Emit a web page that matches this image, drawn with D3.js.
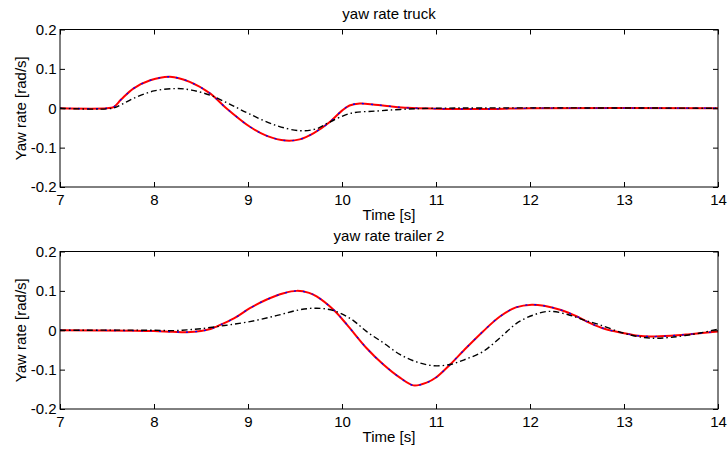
<!DOCTYPE html>
<html>
<head>
<meta charset="utf-8">
<script src="https://cdn.jsdelivr.net/npm/d3@7"></script>
<style>
body { margin: 0; background: #fff; }
svg text { font-family: "Liberation Sans", Arial, sans-serif; font-size: 15px; fill: #000; }
</style>
</head>
<body>
<div id="chart"></div>
<script>
// tick values and labels
var xTicks = [7, 8, 9, 10, 11, 12, 13, 14];
var yTicks = [-0.2, -0.1, 0, 0.1, 0.2];
var yTickLabels = ["-0.2", "-0.1", "0", "0.1", "0.2"];

// yaw rate truck, [time, rad/s]
var truckRed = [[7,0],[7.5,0],[7.57,0.003],[7.65,0.022],[7.78,0.050],[7.96,0.071],[8.17,0.080],[8.38,0.067],
    [8.6,0.037],[8.76,0.002],[9.02,-0.047],[9.2,-0.07],[9.4,-0.082],[9.55,-0.079],[9.7,-0.063],[9.87,-0.035],
    [10.0,-0.006],[10.08,0.007],[10.19,0.012],[10.35,0.009],[10.51,0.005],[10.7,0.001],[11,-0.001],
    [11.5,-0.002],[12,0],[14,0]];
var truckBlack = [[7,0],[7.56,0],[7.65,0.009],[7.78,0.025],[8.0,0.044],[8.24,0.050],[8.4,0.046],[8.6,0.033],
    [8.8,0.011],[9.02,-0.015],[9.29,-0.043],[9.55,-0.057],[9.73,-0.052],[9.87,-0.035],[10.09,-0.013],
    [10.37,-0.007],[10.62,-0.003],[11,0],[14,0]];

// yaw rate trailer 2
var trailerRed = [[7,0],[7.8,-0.001],[8.0,-0.002],[8.2,-0.004],[8.35,-0.005],[8.5,-0.002],[8.6,0.003],
    [8.67,0.010],[8.85,0.03],[9.02,0.056],[9.2,0.078],[9.38,0.094],[9.52,0.100],[9.65,0.095],[9.73,0.086],
    [9.91,0.052],[10.05,0.015],[10.26,-0.045],[10.44,-0.087],[10.62,-0.121],[10.76,-0.140],[10.9,-0.133],
    [11.0,-0.12],[11.15,-0.087],[11.3,-0.050],[11.5,-0.003],[11.68,0.035],[11.85,0.058],[12.02,0.065],
    [12.15,0.062],[12.32,0.052],[12.5,0.035],[12.64,0.018],[12.8,0.003],[12.99,-0.007],[13.15,-0.014],
    [13.28,-0.016],[13.5,-0.014],[13.7,-0.010],[14,-0.003]];
var trailerBlack = [[7,0],[8.0,0],[8.2,-0.001],[8.35,0.001],[8.5,0.004],[8.75,0.012],[9.02,0.022],[9.3,0.037],
    [9.55,0.052],[9.73,0.056],[9.91,0.050],[10.1,0.028],[10.26,-0.003],[10.44,-0.032],[10.62,-0.062],
    [10.8,-0.081],[10.97,-0.090],[11.15,-0.087],[11.3,-0.075],[11.5,-0.054],[11.7,-0.015],[11.86,0.018],
    [12.04,0.039],[12.21,0.048],[12.4,0.040],[12.56,0.027],[12.74,0.014],[12.99,-0.007],[13.15,-0.016],
    [13.28,-0.020],[13.5,-0.018],[13.81,-0.007],[14,0.003]];

var W = 728, H = 449;
var svg = d3.select("#chart").append("svg").attr("width", W).attr("height", H);

// one subplot, box with ticks inside on all four sides (matlab style)
function subplot(top, title, red, black) {
    var dim = {l: 60, r: 718, t: top, b: top + 157.5};
    var x = d3.scaleLinear().domain([7, 14]).range([dim.l, dim.r]);
    var y = d3.scaleLinear().domain([-0.2, 0.2]).range([dim.b, dim.t]);

    var g = svg.append("g");

    // clip so lines stay in the box
    var cid = "clip" + Math.round(top);
    g.append("clipPath").attr("id", cid).append("rect")
        .attr("x", dim.l).attr("y", dim.t).attr("width", dim.r - dim.l).attr("height", dim.b - dim.t);

    var line = d3.line().x(function(d) { return x(d[0]); }).y(function(d) { return y(d[1]); })
        .curve(d3.curveCatmullRom.alpha(0.5));

    var lines = g.append("g").attr("clip-path", "url(#" + cid + ")");
    lines.append("path").attr("d", line(red)).attr("fill", "none")
        .attr("stroke", "#ff0000").attr("stroke-width", 2);
    // blue trace lies right on top of the red one
    lines.append("path").attr("d", line(red)).attr("fill", "none")
        .attr("stroke", "#0000ff").attr("stroke-width", 1.3).attr("stroke-dasharray", "2,7");
    lines.append("path").attr("d", line(black)).attr("fill", "none")
        .attr("stroke", "#000").attr("stroke-width", 1.4).attr("stroke-dasharray", "6,3,1.5,3");

    // axes
    var fmtY = function(d) { return yTickLabels[yTicks.indexOf(d)]; };
    g.append("g").attr("transform", "translate(0," + dim.b + ")")
        .call(d3.axisBottom(x).tickValues(xTicks).tickSize(-5).tickPadding(7.5).tickFormat(d3.format("d")));
    g.append("g").attr("transform", "translate(0," + dim.t + ")")
        .call(d3.axisTop(x).tickValues(xTicks).tickSize(-5).tickFormat(""));
    g.append("g").attr("transform", "translate(" + dim.l + ",0)")
        .call(d3.axisLeft(y).tickValues(yTicks).tickSize(-5).tickPadding(3.5).tickFormat(fmtY));
    g.append("g").attr("transform", "translate(" + dim.r + ",0)")
        .call(d3.axisRight(y).tickValues(yTicks).tickSize(-5).tickFormat(""));

    g.selectAll(".domain").remove();
    g.selectAll(".tick line").attr("stroke", "#000").attr("stroke-width", 1);
    g.selectAll(".tick text").attr("font-family", null).attr("font-size", null).attr("fill", "#000");

    g.append("rect").attr("x", dim.l).attr("y", dim.t)
        .attr("width", dim.r - dim.l).attr("height", dim.b - dim.t)
        .attr("fill", "none").attr("stroke", "#000").attr("stroke-width", 1);

    // titles and labels
    var cx = (dim.l + dim.r) / 2;
    g.append("text").attr("x", cx).attr("y", dim.t - 11).attr("text-anchor", "middle").text(title);
    g.append("text").attr("x", cx).attr("y", dim.b + 33).attr("text-anchor", "middle").text("Time [s]");
    g.append("text").attr("text-anchor", "middle")
        .attr("transform", "translate(26," + (dim.t + dim.b) / 2 + ") rotate(-90)")
        .text("Yaw rate [rad/s]");
}

subplot(29.5, "yaw rate truck", truckRed, truckBlack);
subplot(251.5, "yaw rate trailer 2", trailerRed, trailerBlack);
</script>
</body>
</html>
